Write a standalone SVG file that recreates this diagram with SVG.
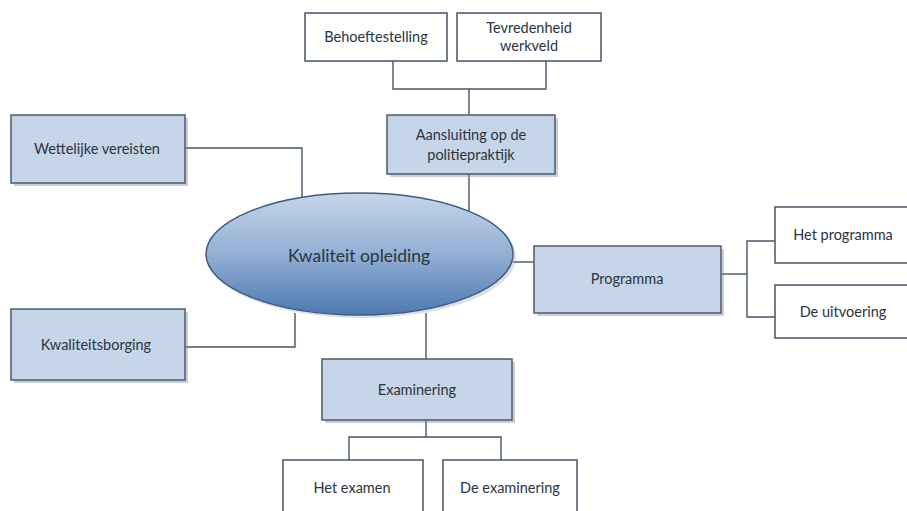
<svg xmlns="http://www.w3.org/2000/svg" width="907" height="511" viewBox="0 0 907 511">
<defs>
<linearGradient id="eg" x1="0" y1="0" x2="0" y2="1">
<stop offset="0" stop-color="#c6d5e9"/>
<stop offset="0.5" stop-color="#92afd4"/>
<stop offset="1" stop-color="#4e79b0"/>
</linearGradient>
<style>
.blue{fill:#c6d5e8;stroke:#4a5b70;stroke-width:1.5}
.white{fill:#ffffff;stroke:#44546a;stroke-width:1.5}
.shadow{fill:#8c939c;opacity:0.45}
.conn{fill:none;stroke:#44546a;stroke-width:1.4}
text{font-family:Lato,"Liberation Sans",sans-serif;font-size:14.5px;fill:#2b3440;text-anchor:middle}
.big{font-size:17.5px}
</style>
</defs>
<rect width="907" height="511" fill="#ffffff"/>
<g id="connectors">
<polyline class="conn" points="393,61 393,89 546,89 546,61"/>
<polyline class="conn" points="469,89 469,115"/>
<polyline class="conn" points="469,174 469,212"/>
<polyline class="conn" points="185,148 302,148 302,198"/>
<polyline class="conn" points="185,347 295,347 295,313"/>
<polyline class="conn" points="513,262 534,262"/>
<polyline class="conn" points="721,274 747,274"/>
<polyline class="conn" points="775,241 747,241 747,317 775,317"/>
<polyline class="conn" points="426,313 426,359"/>
<polyline class="conn" points="426,420 426,437"/>
<polyline class="conn" points="349,460 349,437 501,437 501,460"/>
</g>
<g id="behoeftestelling">
<rect class="white" x="305" y="13" width="142" height="48"/>
<text x="376" y="42">Behoeftestelling</text>
</g>
<g id="tevredenheid">
<rect class="white" x="457" y="13" width="144" height="48"/>
<text x="529" y="33">Tevredenheid</text>
<text x="529" y="51">werkveld</text>
</g>
<g id="aansluiting">
<rect class="shadow" x="390" y="118" width="168" height="59"/>
<rect class="blue" x="387" y="115" width="168" height="59"/>
<text x="471" y="140">Aansluiting op de</text>
<text x="471" y="160">politiepraktijk</text>
</g>
<g id="wettelijke">
<rect class="shadow" x="14" y="118" width="174" height="68"/>
<rect class="blue" x="11" y="115" width="174" height="68"/>
<text x="97" y="154">Wettelijke vereisten</text>
</g>
<g id="kwaliteitsborging">
<rect class="shadow" x="14" y="312" width="174" height="71"/>
<rect class="blue" x="11" y="309" width="174" height="71"/>
<text x="96" y="350">Kwaliteitsborging</text>
</g>
<g id="kwaliteit-opleiding">
<ellipse cx="362" cy="257" rx="154" ry="61" fill="#8c939c" opacity="0.3"/>
<ellipse cx="359.5" cy="254" rx="153.5" ry="61" fill="url(#eg)" stroke="#3d5a80" stroke-width="1.5"/>
<text class="big" x="359" y="262">Kwaliteit opleiding</text>
</g>
<g id="programma">
<rect class="shadow" x="537" y="249" width="187" height="67"/>
<rect class="blue" x="534" y="246" width="187" height="67"/>
<text x="627" y="284">Programma</text>
</g>
<g id="het-programma">
<rect class="white" x="775" y="207" width="140" height="56"/>
<text x="843" y="240">Het programma</text>
</g>
<g id="de-uitvoering">
<rect class="white" x="775" y="285" width="140" height="53"/>
<text x="843" y="317">De uitvoering</text>
</g>
<g id="examinering">
<rect class="shadow" x="325" y="362" width="190" height="61"/>
<rect class="blue" x="322" y="359" width="190" height="61"/>
<text x="417" y="395">Examinering</text>
</g>
<g id="het-examen">
<rect class="white" x="283" y="460" width="140" height="60"/>
<text x="352" y="493">Het examen</text>
</g>
<g id="de-examinering">
<rect class="white" x="443" y="460" width="134" height="60"/>
<text x="510" y="493">De examinering</text>
</g>
</svg>
